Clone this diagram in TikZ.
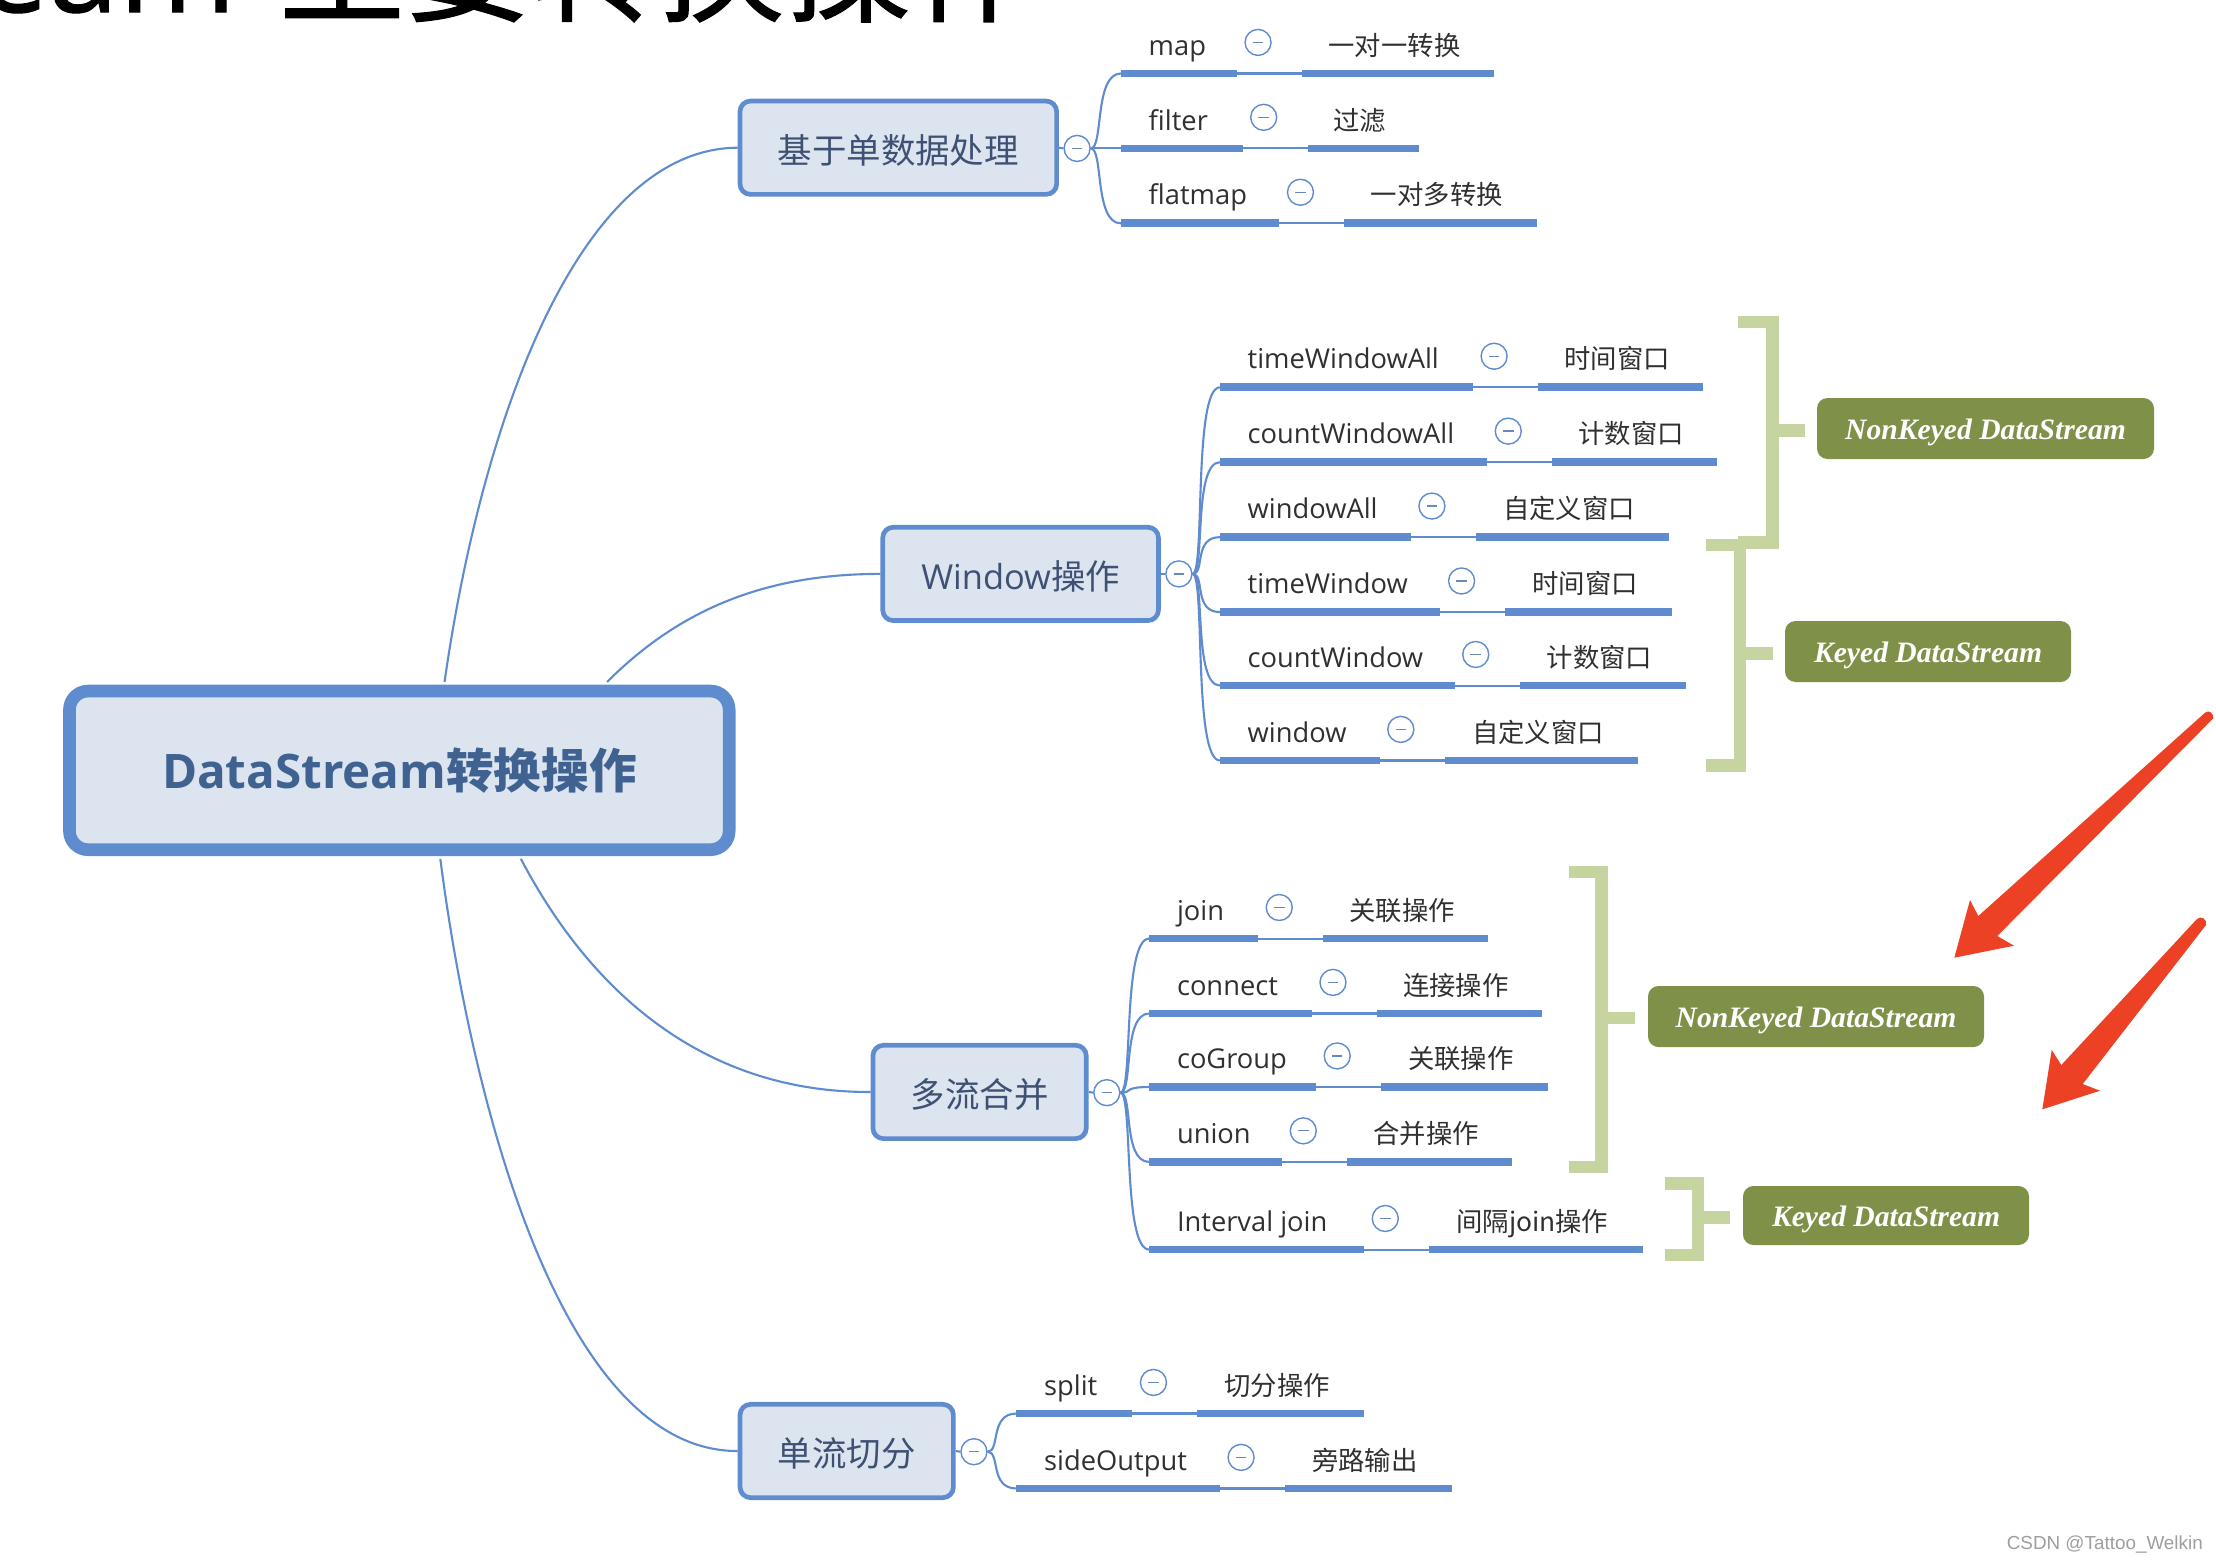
\documentclass[tikz,border=0pt]{standalone}
\usepackage{fontspec}
\setmainfont{Open Sans}
\newfontfamily\cjk{Noto Sans CJK SC}
\newfontfamily\titlecjk[FakeBold=0.8]{Noto Sans CJK SC}
\newfontfamily\titlelat[FakeBold=0.8]{Open Sans}
\newfontfamily\slab{Liberation Serif}
\newfontfamily\footfont{Liberation Sans}
\usetikzlibrary{calc,backgrounds}
\definecolor{mmblue}{HTML}{5F8CCF}
\definecolor{mmfill}{HTML}{DCE4F0}
\definecolor{mmtext}{HTML}{3F5173}
\definecolor{mmroot}{HTML}{3F6291}
\definecolor{leaftext}{HTML}{303030}
\definecolor{brgreen}{HTML}{C6D5A0}
\definecolor{nodegreen}{HTML}{7F9148}
\definecolor{redarrow}{HTML}{EC4125}
\tikzset{
  rootbox/.style={draw=mmblue,fill=mmfill,rounded corners=16pt,line width=10.8pt,minimum width=19.79cm,minimum height=4.76cm,inner sep=0pt,
    text=mmroot,font=\fontsize{40.6}{40.6}\selectfont\bfseries},
  branchbox/.style={draw=mmblue,fill=mmfill,rounded corners=9pt,line width=4pt,minimum height=2.8cm,inner sep=0pt,
    text=mmtext,font=\fontsize{29.4}{29.4}\selectfont},
  link/.style={draw=mmblue,line width=1.8pt},
  barline/.style={draw=mmblue,line width=6.6pt},
  hubcircle/.style={circle,draw=mmblue,fill=white,line width=1.2pt,minimum size=0.78cm,inner sep=0pt,
    path picture={\draw[draw=mmblue!70!gray,line width=1.1pt] ([xshift=-4.5pt]path picture bounding box.center)--([xshift=4.5pt]path picture bounding box.center);}},
  leafname/.style={anchor=base west,inner sep=0pt,text=leaftext,font=\fontsize{23.3}{23.3}\selectfont},
  leaflabel/.style={anchor=base,inner sep=0pt,text=leaftext,font=\fontsize{22.5}{22.5}\selectfont\cjk},
  bracket/.style={draw=brgreen,line width=10.8pt,line cap=butt,line join=miter},
  tagbox/.style={fill=nodegreen,rounded corners=9pt,inner sep=0pt,text=white,font=\fontsize{25.3}{25.3}\selectfont\slab\bfseries\itshape},
  redfill/.style={fill=redarrow},
}
% #1 id, #2 bar y, #3 x0, #4 x1, #5 x3, #6 name, #7 label, #8 hub
\newcommand{\leafrow}[8]{
  \coordinate (#1a) at (#3,#2);
  \coordinate (#1b) at (#4,#2);
  \coordinate (#1c) at ({#4+46},#2);
  \coordinate (#1d) at (#5,#2);
  \draw[barline] (#1a) -- (#1b);
  \draw[link] (#1b) -- (#1c);
  \draw[barline] (#1c) -- (#1d);
  \node[leafname] (#1n) at ({#3+19.5},{#2-13}) {#6};
  \node[hubcircle] (#1o) at ({#4+15},{#2-22}) {};
  \node[leaflabel] (#1t) at ({(#4+46+#5)/2-2.5},{#2-13}) {#7};
  \draw[link] (#8.east) .. controls ($(#8.east)+(9,0)$) and ($(#1a)+(-19,0)$) .. (#1a);
}
\newcommand{\lowered}[2]{\raisebox{-#1}[0pt][0pt]{#2}}
\begin{document}
\begin{tikzpicture}[x=0.042398cm,y=-0.042398cm]
\begin{scope}[x=0.03cm,y=-0.03cm]
  \useasboundingbox (0,0) rectangle (2216,1560);
  \clip (0,0) rectangle (2216,1560);
  \node[anchor=base east,inner sep=0pt,font=\fontsize{108}{108}\selectfont] (title) at (1038,12) {{\titlelat eam}\hspace{36pt}{\titlecjk 主要转换操作}};
\end{scope}

% main nodes
\node[rootbox] (root) at (282.5,545) {DataStream{\cjk 转换操作}};
\node[branchbox,minimum width=9.5cm] (b1) at (635.5,104.5) {\lowered{13.6pt}{\cjk 基于单数据处理}};
\node[branchbox,minimum width=8.27cm] (b2) at (722,406) {\lowered{13.6pt}{Window{\cjk 操作}}};
\node[branchbox,minimum width=6.4cm] (b3) at (693,772.5) {\lowered{13.6pt}{\cjk 多流合并}};
\node[branchbox,minimum width=6.4cm] (b4) at (599,1026.5) {\lowered{13.6pt}{\cjk 单流切分}};

\node[hubcircle] (h1) at (762,105) {};
\node[hubcircle] (h2) at (834,406) {};
\node[hubcircle] (h3) at (783,773) {};
\node[hubcircle] (h4) at (689,1027) {};

% root connectors
\draw[link] ($(root.north)+(32,-2)$) .. controls (342,290) and (412,105) .. (b1.west);
\draw[link] ($(root.north)+(147,-2)$) .. controls (480,432) and (540,406) .. (b2.west);
\draw[link] ($(root.south)+(86,2)$) .. controls (425,715) and (510,773) .. (b3.west);
\draw[link] ($(root.south)+(29,2)$) .. controls (335,790) and (400,1027) .. (b4.west);

\draw[link] (b1.east) -- (h1.west);
\draw[link] (b2.east) -- (h2.west);
\draw[link] (b3.east) -- (h3.west);
\draw[link] (b4.east) -- (h4.west);

% leaves
\leafrow{a1}{52}{793}{875}{1057}{map}{一对一转换}{h1}
\leafrow{a2}{105}{793}{879}{1004}{filter}{过滤}{h1}
\leafrow{a3}{158}{793}{905}{1087}{flatmap}{一对多转换}{h1}

\leafrow{c1}{274}{863}{1042}{1205}{timeWindowAll}{时间窗口}{h2}
\leafrow{c2}{327}{863}{1052}{1215}{countWindowAll}{计数窗口}{h2}
\leafrow{c3}{380}{863}{998}{1181}{windowAll}{自定义窗口}{h2}
\leafrow{c4}{433}{863}{1019}{1183}{timeWindow}{时间窗口}{h2}
\leafrow{c5}{485}{863}{1029}{1193}{countWindow}{计数窗口}{h2}
\leafrow{c6}{538}{863}{976}{1159}{window}{自定义窗口}{h2}

\leafrow{d1}{664}{813}{890}{1053}{join}{关联操作}{h3}
\leafrow{d2}{717}{813}{928}{1091}{connect}{连接操作}{h3}
\leafrow{d3}{769}{813}{931}{1095}{coGroup}{关联操作}{h3}
\leafrow{d4}{822}{813}{907}{1070}{union}{合并操作}{h3}
\leafrow{d5}{884}{813}{965}{1162}{Interval join}{间隔join操作}{h3}

\leafrow{e1}{1000}{719}{801}{965}{split}{切分操作}{h4}
\leafrow{e2}{1053}{719}{863}{1027}{sideOutput}{旁路输出}{h4}

\begin{scope}[x=0.03cm,y=-0.03cm]
  % tag nodes
  \node[tagbox,minimum width=10.11cm,minimum height=1.83cm] (g1) at (1985.5,428.5) {\lowered{9.4pt}{NonKeyed DataStream}};
  \node[tagbox,minimum width=8.58cm,minimum height=1.83cm] (g2) at (1928,651.5) {\lowered{9.4pt}{Keyed DataStream}};
  \node[tagbox,minimum width=10.08cm,minimum height=1.83cm] (g3) at (1816,1016.5) {\lowered{9.4pt}{NonKeyed DataStream}};
  \node[tagbox,minimum width=8.58cm,minimum height=1.77cm] (g4) at (1886,1215.5) {\lowered{9.4pt}{Keyed DataStream}};
  % brackets
  \draw[bracket] (1738,322) -- (1772.5,322) -- (1772.5,542.5) -- (1738,542.5);
  \draw[bracket] (1772.5,430.5) -- ($(g1.west)+(-12,2)$);
  \draw[bracket] (1706,545) -- (1740,545) -- (1740,765.5) -- (1706,765.5);
  \draw[bracket] (1740,653.5) -- ($(g2.west)+(-12,2)$);
  \draw[bracket] (1569,872) -- (1601.5,872) -- (1601.5,1167) -- (1569,1167);
  \draw[bracket] (1601.5,1018) -- ($(g3.west)+(-13,1.5)$);
  \draw[bracket] (1665,1183.5) -- (1698,1183.5) -- (1698,1255) -- (1665,1255);
  \draw[bracket] (1698,1217.5) -- ($(g4.west)+(-13,2)$);
  % red arrows
  \fill[redfill] (2205,712.7) .. controls (2209,709) and (2214,714) .. (2213.3,718.3) -- (1997.3,936) -- (2014,945.7) -- (1954.3,957.7) -- (1970,900) -- (1978.3,916) -- cycle;
  \fill[redfill] (2196.7,919.3) .. controls (2200,915) and (2208,919) .. (2206,925) -- (2082.7,1084) -- (2100,1090.7) -- (2042.3,1109.3) -- (2051.7,1050) -- (2061.3,1065) -- cycle;
  % footer
  \node[anchor=east,inner sep=0pt,text=black!38,font=\fontsize{16.1}{16}\selectfont\footfont] (foot) at (2203,1545) {CSDN @Tattoo\_Welkin};
\end{scope}
\end{tikzpicture}
\end{document}
